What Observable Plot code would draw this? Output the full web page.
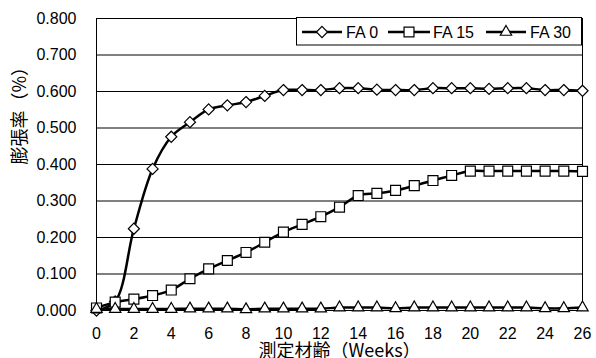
<!DOCTYPE html>
<html>
<head>
<meta charset="utf-8">
<script src="https://cdn.jsdelivr.net/npm/d3@7"></script>
<script src="https://cdn.jsdelivr.net/npm/@observablehq/plot@0.6"></script>
<style>
  html, body { margin: 0; padding: 0; background: #fff; }
  #chart svg { display: block; }
</style>
</head>
<body>
<div id="chart"></div>
<script>
const weeks = [0, 1, 2, 3, 4, 5, 6, 7, 8, 9, 10, 11, 12, 13, 14, 15, 16, 17, 18, 19, 20, 21, 22, 23, 24, 25, 26];
const fa0  = [0.000, 0.025, 0.224, 0.388, 0.476, 0.516, 0.551, 0.562, 0.571, 0.588, 0.604, 0.604, 0.604, 0.609, 0.609, 0.605, 0.604, 0.604, 0.609, 0.609, 0.609, 0.607, 0.609, 0.609, 0.604, 0.604, 0.602];
const fa15 = [0.007, 0.023, 0.031, 0.041, 0.056, 0.087, 0.114, 0.137, 0.159, 0.187, 0.215, 0.236, 0.257, 0.283, 0.315, 0.321, 0.329, 0.342, 0.356, 0.370, 0.382, 0.382, 0.382, 0.382, 0.382, 0.382, 0.381];
const fa30 = [0.004, 0.004, 0.004, 0.004, 0.004, 0.005, 0.005, 0.005, 0.003, 0.005, 0.005, 0.005, 0.005, 0.008, 0.008, 0.008, 0.006, 0.008, 0.008, 0.008, 0.008, 0.008, 0.008, 0.008, 0.006, 0.006, 0.008];
const seriesNames = ["FA 0", "FA 15", "FA 30"];
const yTicks = [0, 0.1, 0.2, 0.3, 0.4, 0.5, 0.6, 0.7, 0.8];
const xTicks = [0, 2, 4, 6, 8, 10, 12, 14, 16, 18, 20, 22, 24, 26];
const yLabel = "膨張率（%）";
const xLabel = "測定材齢（Weeks）";

const symbols = ["diamond2", "square", "triangle"];
const radii = [5, 5.6, 4.2];
const d3Symbols = [d3.symbolDiamond2, d3.symbolSquare, d3.symbolTriangle];
const allValues = [fa0, fa15, fa30];

const rows = allValues.map((vals, i) => weeks.map((w, j) => ({week: w, value: vals[j], series: seriesNames[i]})));

const FONT = "'Liberation Sans', Arial, 'Noto Sans CJK JP', sans-serif";
const CJK = "'Noto Sans CJK JP', 'Liberation Sans', sans-serif";

const marks = [
  Plot.ruleY(yTicks, {stroke: "#000", strokeWidth: 1}),
  Plot.frame({stroke: "#000", strokeWidth: 1}),
  Plot.axisY({ticks: yTicks, tickFormat: d3.format(".3f"), tickSize: 0, tickPadding: 20, fontSize: 16, label: null}),
  Plot.axisX({ticks: xTicks, tickFormat: d3.format("d"), tickSize: 0, tickPadding: 17, fontSize: 16, label: null})
];
rows.forEach((data, i) => {
  marks.push(Plot.line(data, {x: "week", y: "value", stroke: "#000", strokeWidth: 2.5, curve: "catmull-rom"}));
  marks.push(Plot.dot(data, {x: "week", y: "value", symbol: () => symbols[i], r: radii[i], fill: "#fff", stroke: "#000", strokeWidth: 1.2}));
});
marks.push(Plot.text([yLabel], {frameAnchor: "left", rotate: -90, dx: -76, fontSize: 18, fontFamily: CJK, fill: "#000"}));
marks.push(Plot.text([xLabel], {frameAnchor: "bottom", dy: 41, fontSize: 18, fontFamily: CJK, fill: "#000", lineAnchor: "middle"}));

const chart = Plot.plot({
  width: 596,
  height: 358,
  marginLeft: 96,
  marginRight: 14,
  marginTop: 18,
  marginBottom: 48,
  x: {domain: [0, 26]},
  y: {domain: [0, 0.8]},
  style: {fontFamily: FONT, fontSize: "16px", background: "#fff", color: "#000", overflow: "visible"},
  marks
});
document.getElementById("chart").appendChild(chart);

// Legend (top-right inside the plot area)
const svg = d3.select(chart);
const lg = svg.append("g");
lg.append("rect").attr("x", 296.5).attr("y", 17.5).attr("width", 285).attr("height", 27.5)
  .attr("fill", "#fff").attr("stroke", "#000").attr("stroke-width", 1);
const items = [
  {x0: 302, x1: 342, tx: 346},
  {x0: 388, x1: 430, tx: 433},
  {x0: 486, x1: 526, tx: 530}
];
const ly = 32;
items.forEach((it, i) => {
  lg.append("line").attr("x1", it.x0).attr("x2", it.x1).attr("y1", ly).attr("y2", ly)
    .attr("stroke", "#000").attr("stroke-width", 2.5);
  lg.append("path").attr("transform", `translate(${(it.x0 + it.x1) / 2},${ly})`)
    .attr("d", d3.symbol(d3Symbols[i], Math.PI * radii[i] * radii[i])())
    .attr("fill", "#fff").attr("stroke", "#000").attr("stroke-width", 1.2);
  lg.append("text").attr("x", it.tx).attr("y", ly).attr("dy", "0.35em")
    .style("text-anchor", "start").style("font-size", "16px").style("font-family", FONT)
    .attr("fill", "#000").text(seriesNames[i]);
});
</script>
</body>
</html>
